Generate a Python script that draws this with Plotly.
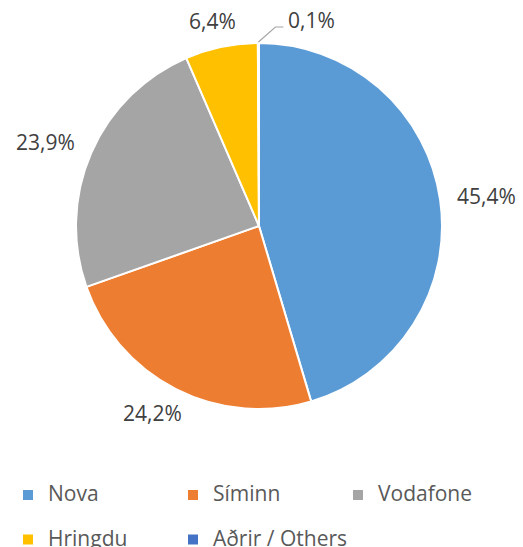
import math
import plotly.graph_objects as go

carriers = ["Nova", "Síminn", "Vodafone", "Hringdu", "Aðrir / Others"]
shares = [45.4, 24.2, 23.9, 6.4, 0.1]
colors = ["#5B9BD5", "#ED7D31", "#A5A5A5", "#FFC000", "#4472C4"]

W, H = 523, 547
cx, cy, r = 259, 226, 183      # pie centre / radius in pixels
gap = 17                        # label distance from the pie edge
lbl_size = 21
lbl_color = "#404040"

legend_names = ["<span style='font-size:21px'>%s</span><br> " % c for c in carriers]

fig = go.Figure(go.Pie(
    labels=legend_names,
    values=shares,
    sort=False,
    direction="clockwise",
    rotation=0,
    marker=dict(colors=colors, line=dict(color="white", width=2)),
    textinfo="none",
    hoverinfo="skip",
    domain=dict(x=[(cx - r) / W, (cx + r) / W], y=[1 - (cy + r) / H, 1 - (cy - r) / H]),
))

# data labels, positioned from each slice's mid angle
total = sum(shares)
cum = 0.0
annotations = []
shapes = []
for i, v in enumerate(shares):
    pct = v / total * 100
    mid = (cum + v / 2) / total * 2 * math.pi
    cum += v
    dx, dy = math.sin(mid), -math.cos(mid)
    text = f"{pct:.1f}%".replace(".", ",")
    px, py = cx + r * dx, cy + r * dy
    if pct < 1:
        # tiny slice: elbow leader line to the right
        p1 = (px + 17, py - 16)
        p2 = (px + 25, py - 16)
        shapes.append(dict(
            type="path", xref="paper", yref="paper",
            path="M %f,%f L %f,%f L %f,%f" % (px / W, 1 - (py - 1) / H, p1[0] / W, 1 - p1[1] / H,
                                            p2[0] / W, 1 - p2[1] / H),
            line=dict(color="#A6A6A6", width=1.2),
        ))
        annotations.append(dict(
            x=(p2[0] + 3) / W, y=1 - (py - 23) / H, xref="paper", yref="paper",
            text=text, showarrow=False, xanchor="left", yanchor="middle",
            font=dict(size=lbl_size, color=lbl_color, family="Open Sans"),
        ))
        continue
    half_w = 6 * len(text)
    half_h = 9
    m = max(abs(dx), abs(dy))
    ox = (r + gap) * dx + dx * half_w / m
    oy = (r + gap) * dy + dy * half_h / m
    lx, ly = cx + ox, cy + oy
    annotations.append(dict(
        x=lx / W, y=1 - ly / H, xref="paper", yref="paper",
        text=text, showarrow=False, xanchor="center", yanchor="middle",
        font=dict(size=lbl_size, color=lbl_color, family="Open Sans"),
    ))

fig.update_layout(
    width=W, height=H,
    margin=dict(l=0, r=0, t=0, b=0, autoexpand=False),
    paper_bgcolor="white",
    font=dict(family="Open Sans", color="#595959"),
    showlegend=True,
    legend=dict(
        orientation="h",
        x=8 / W, y=1 - 478 / H, xanchor="left", yanchor="top",
        font=dict(size=16, color="#595959", family="Open Sans"),
        entrywidth=120,
        valign="top",
        itemclick=False,
    ),
    annotations=annotations,
    shapes=shapes,
)

fig.write_html("out.html", config={"displayModeBar": False},
               post_script="document.body.style.margin='0';")
